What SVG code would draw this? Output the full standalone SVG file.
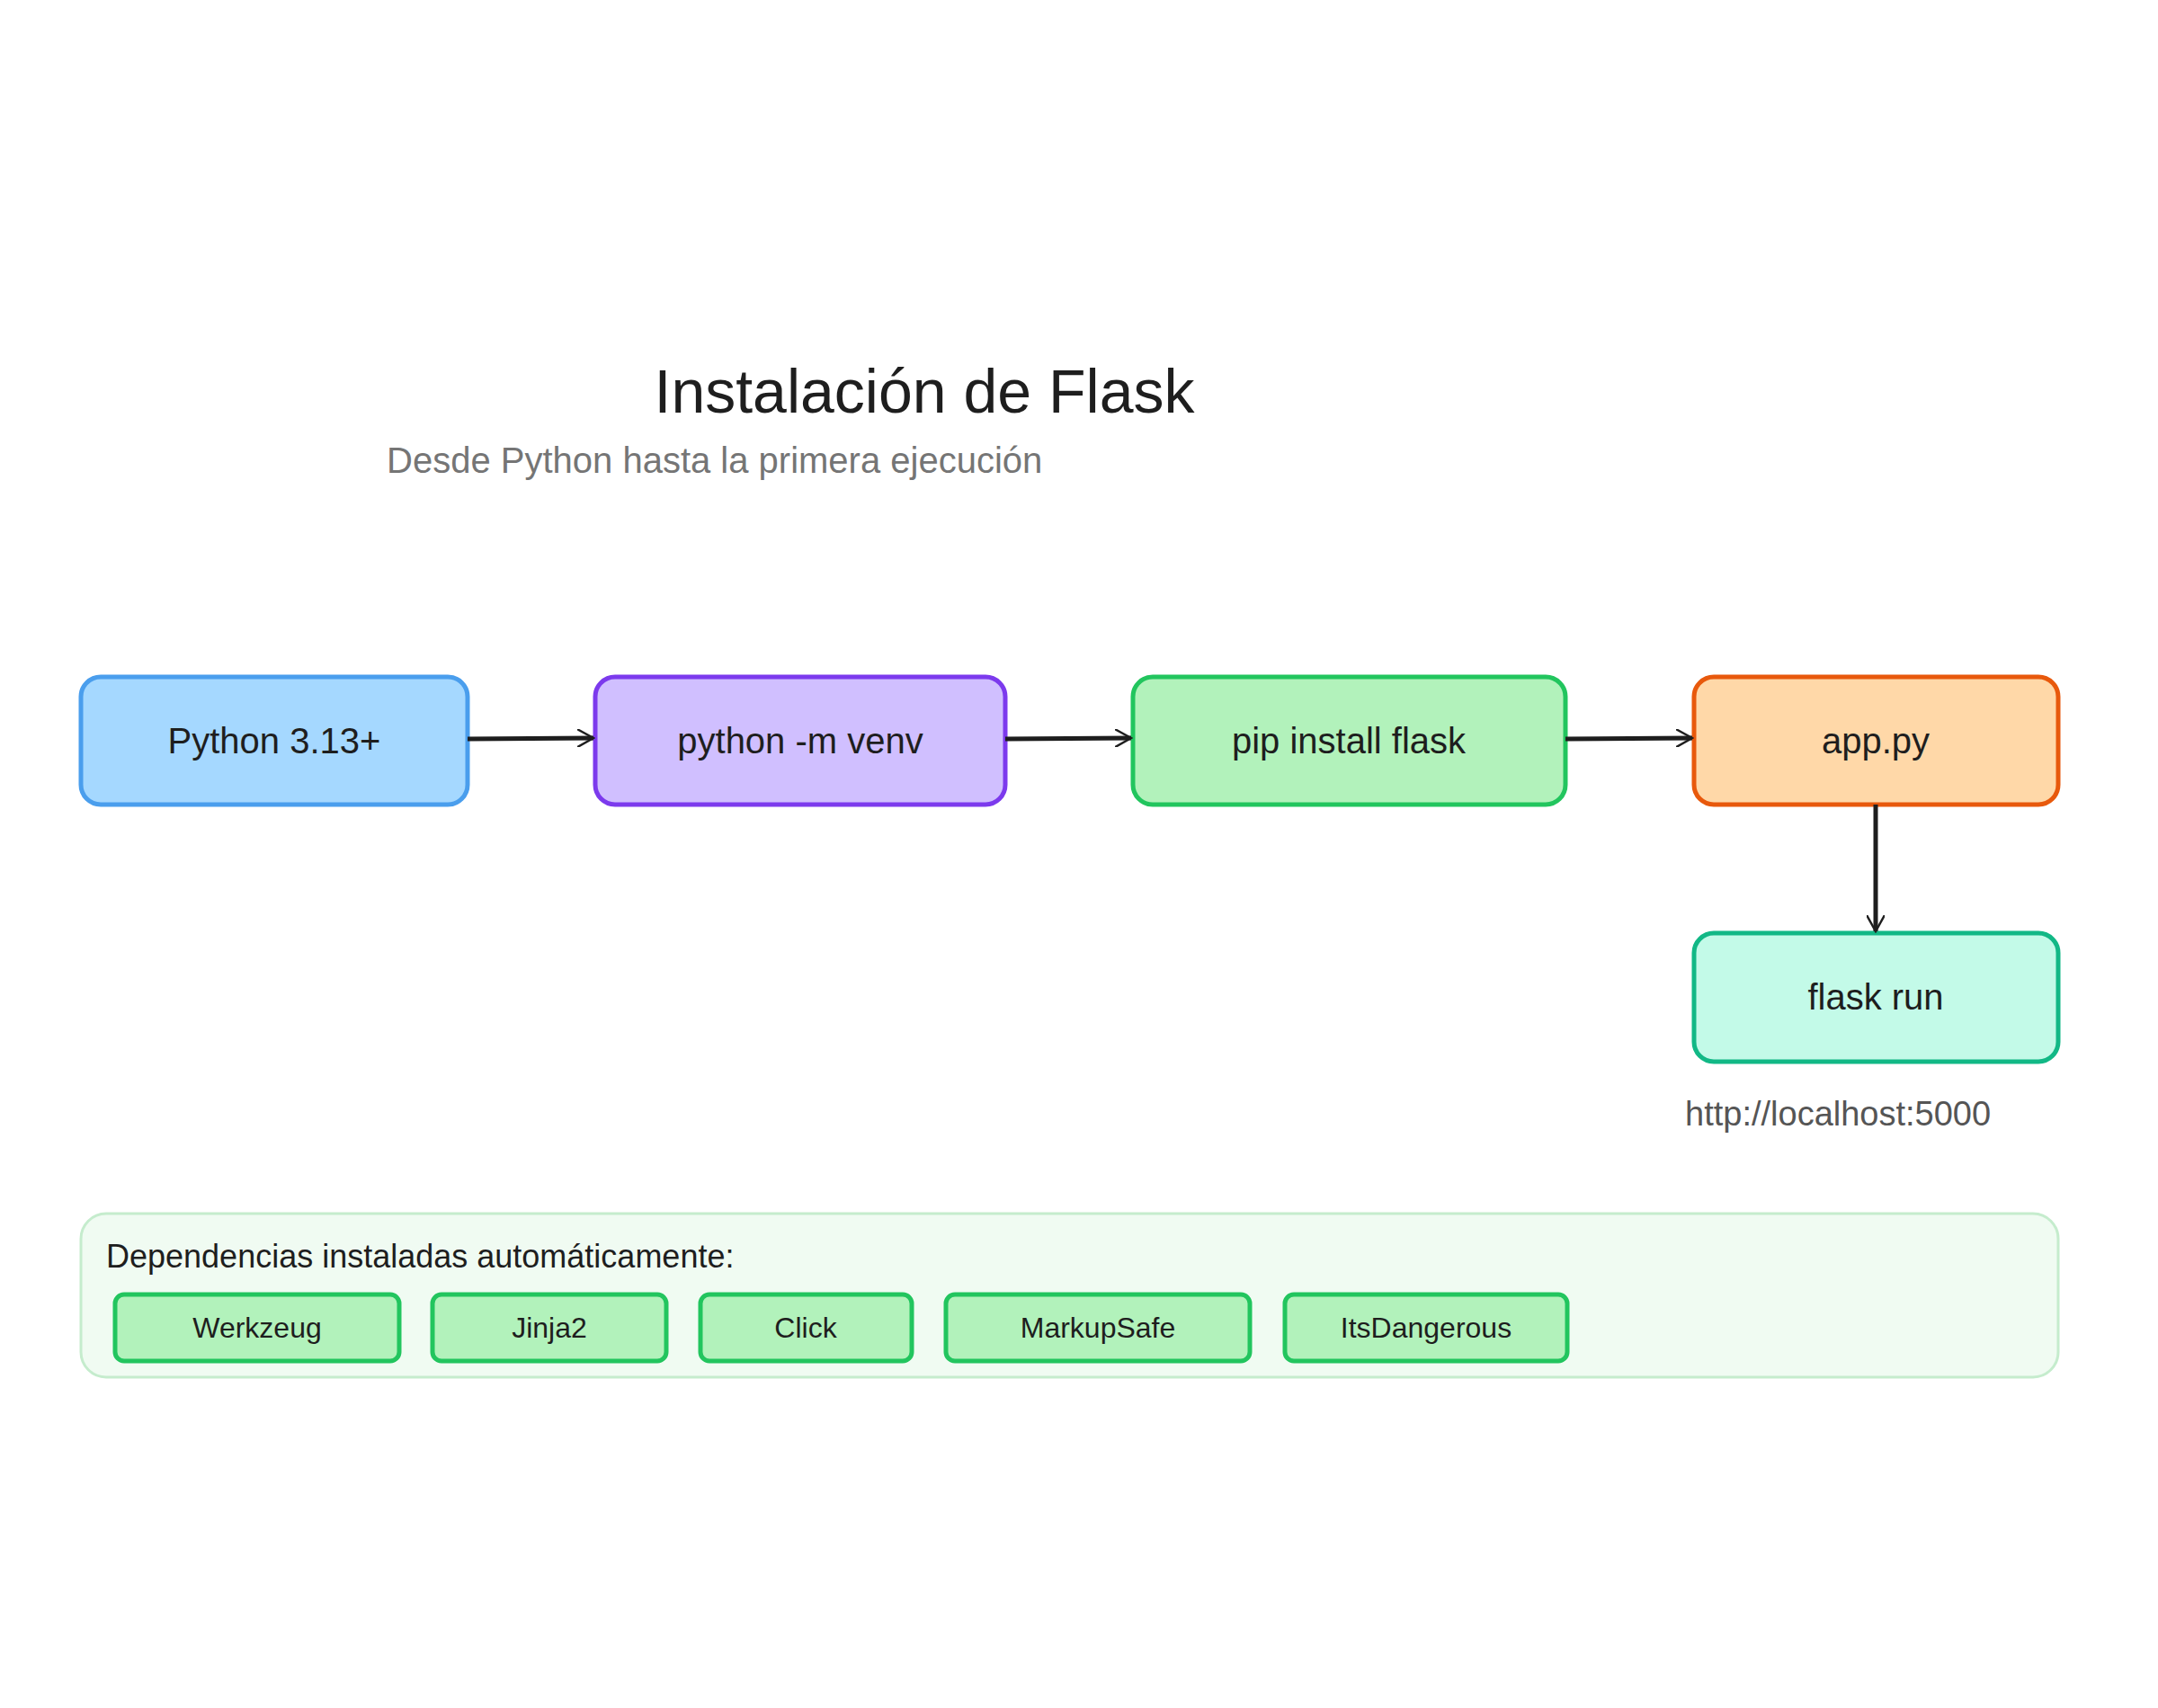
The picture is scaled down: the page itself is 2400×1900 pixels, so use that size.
<svg xmlns="http://www.w3.org/2000/svg" width="2400" height="1900" viewBox="0 0 2400 1900">
<defs>
<marker id="ah" viewBox="0 0 20 20" refX="18" refY="10" markerWidth="20" markerHeight="20" markerUnits="userSpaceOnUse" orient="auto"><path d="M0,0 L18,10 L0,20" fill="none" stroke="#1e1e1e" stroke-width="2.5"/></marker>
</defs>
<style>
text{font-family:"Liberation Sans","DejaVu Sans",sans-serif;fill:#1e1e1e}
.n text{font-size:40px;text-anchor:middle;dominant-baseline:central}
.n rect{stroke-width:5}
.c rect{fill:#b2f2bb;stroke:#22c55e;stroke-width:5}
.c text{font-size:32px;text-anchor:middle;dominant-baseline:central}
.e{stroke:#1e1e1e;stroke-width:5;fill:none;marker-end:url(#ah)}
</style>
<rect width="2400" height="1900" fill="#fff"/>
<text x="1028" y="459" font-size="68" text-anchor="middle">Instalación de Flask</text>
<text x="430" y="526" font-size="40" fill="#757575" style="fill:#757575">Desde Python hasta la primera ejecución</text>
<g id="n1" class="n"><rect x="90" y="753" width="430" height="142" rx="22" fill="#a5d8ff" stroke="#4a9eed"/><text x="305" y="824">Python 3.13+</text></g>
<g id="n2" class="n"><rect x="662" y="753" width="456" height="142" rx="22" fill="#d0bfff" stroke="#7c3aed"/><text x="890" y="824">python -m venv</text></g>
<g id="n3" class="n"><rect x="1260" y="753" width="481" height="142" rx="22" fill="#b2f2bb" stroke="#22c55e"/><text x="1500" y="824">pip install flask</text></g>
<g id="n4" class="n"><rect x="1884" y="753" width="405" height="142" rx="22" fill="#ffd8a8" stroke="#e8590c"/><text x="2086" y="824">app.py</text></g>
<g id="n5" class="n"><rect x="1884" y="1038" width="405" height="143" rx="22" fill="#c3fae8" stroke="#12b886"/><text x="2086" y="1109">flask run</text></g>
<text x="1874" y="1252" font-size="38" fill="#555" style="fill:#555">http://localhost:5000</text>
<g id="edges">
<path class="e" d="M520,822 L660,821"/>
<path class="e" d="M1118,822 L1258,821"/>
<path class="e" d="M1741,822 L1882,821"/>
<path class="e" d="M2086,895 L2086,1036"/>
</g>
<g id="deps">
<rect x="90" y="1350" width="2199" height="182" rx="28" fill="#f0fbf2" stroke="#c5eccd" stroke-width="3"/>
<text x="118" y="1410" font-size="36">Dependencias instaladas automáticamente:</text>
<g id="d1" class="c"><rect x="128" y="1440" width="316" height="74" rx="10"/><text x="286" y="1477">Werkzeug</text></g>
<g id="d2" class="c"><rect x="481" y="1440" width="260" height="74" rx="10"/><text x="611" y="1477">Jinja2</text></g>
<g id="d3" class="c"><rect x="779" y="1440" width="235" height="74" rx="10"/><text x="896" y="1477">Click</text></g>
<g id="d4" class="c"><rect x="1052" y="1440" width="338" height="74" rx="10"/><text x="1221" y="1477">MarkupSafe</text></g>
<g id="d5" class="c"><rect x="1429" y="1440" width="314" height="74" rx="10"/><text x="1586" y="1477">ItsDangerous</text></g>
</g>
</svg>
